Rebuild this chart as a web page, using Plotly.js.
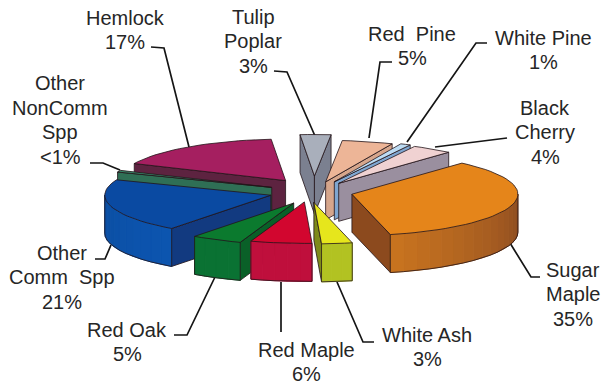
<!DOCTYPE html>
<html>
<head>
<meta charset="utf-8">
<script src="https://cdn.plot.ly/plotly-3.0.1.min.js"></script>
<style>html,body{margin:0;padding:0;background:#fff}#chart{width:603px;height:386px}</style>
</head>
<body>
<div id="chart"></div>
<script>
// Forest composition by species, clockwise from the upper right of the exploded pie.
const species = ['Sugar<br>Maple', 'White Ash', 'Red Maple', 'Red Oak', 'Other<br>Comm  Spp',
  'Other<br>NonComm<br>Spp', 'Hemlock', 'Tulip<br>Poplar', 'Red  Pine', 'White Pine', 'Black<br>Cherry'];
const shares = [35, 3, 6, 5, 21, 0.7, 17, 3, 5, 1, 4];
const shareLabels = ['35%', '3%', '6%', '5%', '21%', '<1%', '17%', '3%', '5%', '1%', '4%'];

// Face colours per slice.
const topColors = ['#e5851a', '#e6e61c', '#d2062f', '#0b7a2e', '#0a4aa2', '#3a8a6c', '#a51f60', '#a9afbb', '#edb597', '#bcdcf4', '#f0d2d2'];
const rimFar = ['#8a4a22', '#b2c222', '#bf0f3c', '#0a7233', '#0c55b0', '#2f6f55', '#5e2340', '#8d93a0', '#d6a68c', '#7fa6d0', '#9a8f9f'];
const rimNear = ['#c9741f', '#b2c222', '#bf0f3c', '#0a7233', '#0b4ea2', '#2f6f55', '#5e2340', '#8d93a0', '#d6a68c', '#7fa6d0', '#9a8f9f'];
const sideColors = ['#8c4a1e', '#7d8a1a', '#a50f35', '#0a6028', '#123a80', '#2f6f55', '#5d2340', '#7b8090', '#d6a68c', '#7fa6d0', '#9a8f9f'];
const edge = 'rgba(35,20,25,0.8)';

// Pie geometry: tilt squashes the disc, explode pushes a slice out along its bisector,
// and sideShift slides a slice horizontally to open or close the gaps at the front.
const centre = [315, 192];
const radius = 166, tilt = 0.25, depth = 38, startAngle = 41.5;
const explode = [36, 42, 40, 50, 47, 47, 56, 64, 42, 45, 42];
const sideShift = [2, -7, -5, 2, 1, 0, 3, -1, 0, 0, 0];
const paintOrder = [6, 7, 8, 9, 10, 5, 4, 3, 2, 0, 1];

// Label block centres and their leader paths.
const labelX = [573, 427, 306, 127, 62, 60, 125, 253, 412, 543, 545];
const labelY = [294, 347, 362, 342, 277, 120, 30, 41, 46, 50, 132];
const lineGap = 24.5;
const leaders = [
  [[540, 277], [531, 277], [510, 243]],
  [[374, 342], [363, 342], [337, 282]],
  [[281, 332], [281, 282]],
  [[174, 335], [187, 335], [215, 277]],
  [[95, 259], [105, 259], [111, 245]],
  [[90, 163], [103, 163], [120, 170]],
  [[151, 47], [164, 48], [189, 147]],
  [[274, 71], [287, 72], [315, 136]],
  [[392, 62], [380, 62], [369, 138]],
  [[487, 43], [476, 43], [407, 142]],
  [[507, 138], [435, 147]]
];

const rad = d => d * Math.PI / 180;
const total = shares.reduce((a, b) => a + b, 0);

function hexMix(a, b, t) {
  const p = c => [1, 3, 5].map(i => parseInt(c.substr(i, 2), 16));
  const A = p(a), B = p(b);
  return 'rgb(' + A.map((v, i) => Math.round(v + (B[i] - v) * t)).join(',') + ')';
}

const traces = [];
function face(pts, fill, line) {
  traces.push({
    type: 'scatter', mode: 'lines', hoverinfo: 'skip', fill: 'toself', fillcolor: fill,
    x: pts.map(p => p[0]), y: pts.map(p => p[1]),
    line: {width: 1, color: line}
  });
}
function stroke(pts) {
  traces.push({
    type: 'scatter', mode: 'lines', hoverinfo: 'skip',
    x: pts.map(p => p[0]), y: pts.map(p => p[1]), line: {width: 1, color: edge}
  });
}

// Angular span of each slice, measured clockwise from the far side of the disc.
let running = startAngle;
const spans = shares.map(v => {
  const a = running, b = running + v / total * 360;
  running = b;
  return [a, b];
});

paintOrder.forEach(i => {
  const [a, b] = spans[i];
  const mid = rad((a + b) / 2);
  const ox = centre[0] + explode[i] * Math.sin(mid) + sideShift[i];
  const oy = centre[1] - explode[i] * tilt * Math.cos(mid);
  const at = (deg, drop) => [ox + radius * Math.sin(rad(deg)), oy - tilt * radius * Math.cos(rad(deg)) + drop];
  const apex = [ox, oy], apexLow = [ox, oy + depth];

  // Radial walls, only those turned toward the viewer.
  if (Math.sin(rad(a)) < 0) face([apex, at(a, 0), at(a, depth), apexLow, apex], sideColors[i], edge);
  if (Math.sin(rad(b)) > 0) face([apex, at(b, 0), at(b, depth), apexLow, apex], sideColors[i], edge);

  // Curved rim on the near half of the disc, shaded strip by strip.
  const from = Math.max(a, 90), to = Math.min(b, 270);
  if (to > from) {
    const n = Math.max(1, Math.ceil((to - from) / 5));
    const angle = k => from + (to - from) * k / n;
    for (let k = 0; k < n; k++) {
      const s = angle(k), e = angle(k + 1);
      const c = hexMix(rimFar[i], rimNear[i], (k + 0.5) / n);
      face([at(s, 0), at(e, 0), at(e, depth), at(s, depth), at(s, 0)], c, c);
    }
    const lower = [];
    for (let k = 0; k <= n; k++) lower.push(at(angle(k), depth));
    stroke(lower);
    stroke([at(from, 0), at(from, depth)]);
    stroke([at(to, 0), at(to, depth)]);
  }

  // Top of the slice.
  const top = [apex];
  const steps = Math.max(2, Math.ceil((b - a) / 3));
  for (let k = 0; k <= steps; k++) top.push(at(a + (b - a) * k / steps, 0));
  top.push(apex);
  face(top, topColors[i], edge);
});

// Every text line is placed on its own so the line spacing stays tight.
const annotations = [];
species.forEach((name, i) => {
  const lines = name.split('<br>').concat(shareLabels[i].replace('<', '&lt;'));
  lines.forEach((text, j) => annotations.push({
    x: labelX[i], y: labelY[i] + (j - (lines.length - 1) / 2) * lineGap,
    xref: 'x', yref: 'y', showarrow: false, text,
    xanchor: 'center', yanchor: 'middle',
    font: {family: '"Liberation Sans", Arial, sans-serif', size: 20, color: '#262626'}
  }));
});

const shapes = leaders.map(pts => ({
  type: 'path', xref: 'x', yref: 'y', layer: 'below',
  path: pts.map((p, j) => (j ? 'L' : 'M') + p[0] + ' ' + p[1]).join(' '),
  line: {color: '#151515', width: 1.7}
}));

Plotly.newPlot('chart', traces, {
  width: 603, height: 386, showlegend: false,
  margin: {l: 0, r: 0, t: 0, b: 0},
  paper_bgcolor: '#fff', plot_bgcolor: '#fff',
  xaxis: {range: [0, 603], visible: false, fixedrange: true},
  yaxis: {range: [386, 0], visible: false, fixedrange: true},
  annotations, shapes
}, {displayModeBar: false, responsive: false});
</script>
</body>
</html>
